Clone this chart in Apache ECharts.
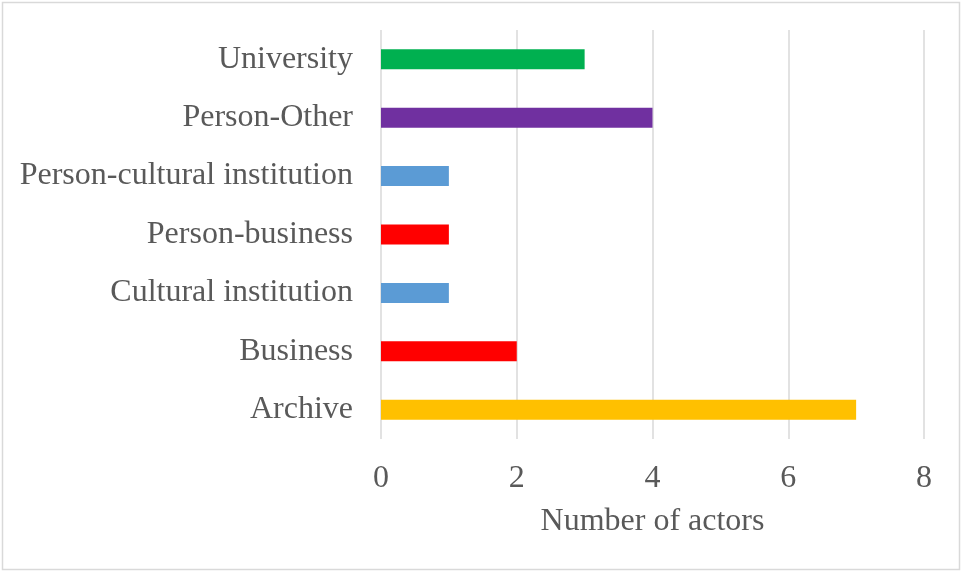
<!DOCTYPE html>
<html>
<head>
<meta charset="utf-8">
<script src="https://cdn.jsdelivr.net/npm/echarts@6/dist/echarts.min.js"></script>
<style>
  html, body { margin: 0; padding: 0; background: #fff; }
  #chart { width: 962px; height: 572px; }
</style>
</head>
<body>
<div id="chart"></div>
<script>
// Actor types, listed bottom to top along the category axis
var categories = ['Archive', 'Business', 'Cultural institution', 'Person-business',
  'Person-cultural institution', 'Person-Other', 'University'];
var actorCounts = [7, 2, 1, 1, 1, 4, 3];
var barColors = ['#FFC000', '#FF0000', '#5B9BD5', '#FF0000', '#5B9BD5', '#7030A0', '#00B050'];
var xTicks = [0, 2, 4, 6, 8];

var FONT = '"Liberation Serif", "Times New Roman", serif';
var TEXT = '#595959';
var SIZE = 32;

var chart = echarts.init(document.getElementById('chart'), null, { renderer: 'canvas' });
chart.setOption({
  animation: false,
  backgroundColor: '#ffffff',
  graphic: [{
    type: 'rect',
    shape: { x: 2.5, y: 2.5, width: 957, height: 567 },
    style: { fill: 'none', stroke: '#d9d9d9', lineWidth: 1.5 },
    z: -1
  }],
  grid: { left: 381, right: 38, top: 30, bottom: 133, containLabel: false },
  xAxis: {
    type: 'value',
    min: xTicks[0],
    max: xTicks[xTicks.length - 1],
    interval: 2,
    name: 'Number of actors',
    nameLocation: 'middle',
    nameGap: 67,
    nameTextStyle: { fontFamily: FONT, fontSize: SIZE, color: TEXT },
    axisLine: { show: false },
    axisTick: { show: false },
    axisLabel: { fontFamily: FONT, fontSize: SIZE, color: TEXT, margin: 24 },
    splitLine: { show: true, lineStyle: { color: '#d9d9d9', width: 1.5 } }
  },
  yAxis: {
    type: 'category',
    data: categories,
    axisLine: { show: false },
    axisTick: { show: false },
    axisLabel: { fontFamily: FONT, fontSize: SIZE, color: TEXT, margin: 28, padding: [8, 0, 0, 0] },
    splitLine: { show: false }
  },
  series: [{
    type: 'bar',
    barWidth: 20,
    data: actorCounts.map(function (v, i) {
      return { value: v, itemStyle: { color: barColors[i] } };
    })
  }]
});
</script>
</body>
</html>
